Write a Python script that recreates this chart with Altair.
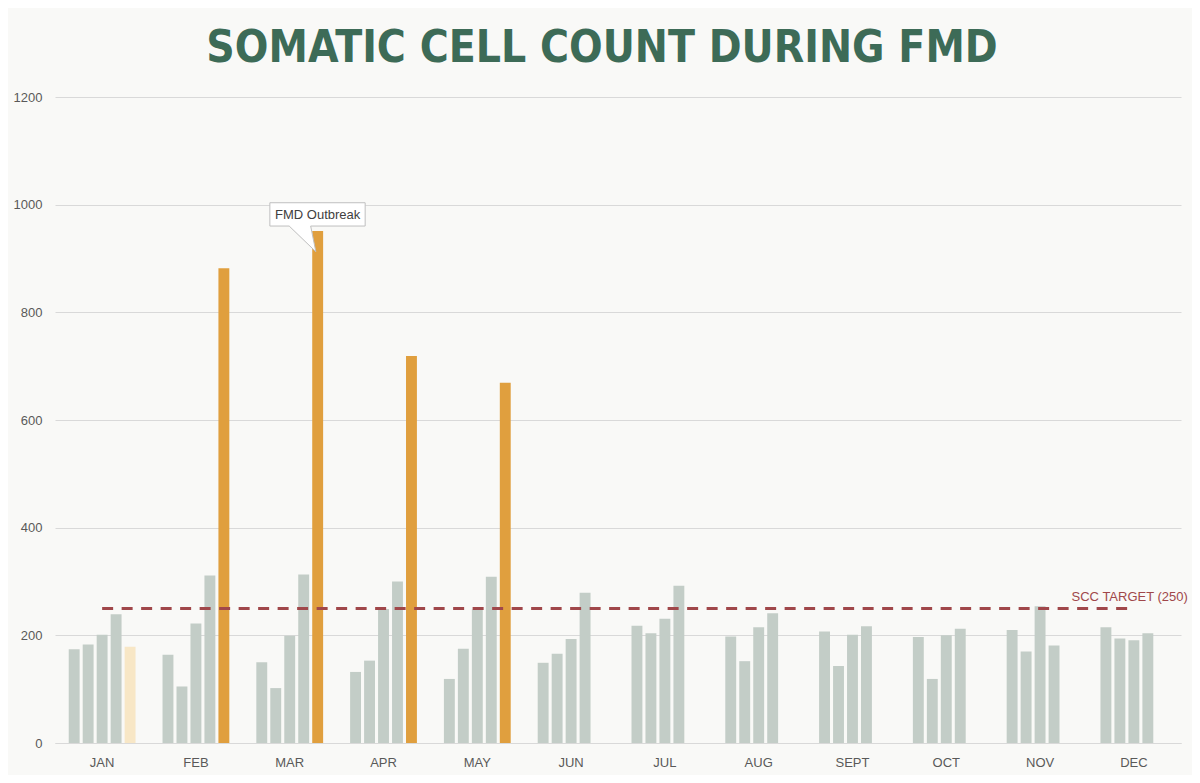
import altair as alt
import pandas as pd

months = ["JAN", "FEB", "MAR", "APR", "MAY", "JUN", "JUL", "AUG", "SEPT", "OCT", "NOV", "DEC"]
slots = ["W1", "W2", "W3", "W4", "W5"]
week1 = [174, 164, 150, 132, 119, 149, 218, 198, 207, 197, 210, 215]
week2 = [183, 105, 102, 153, 175, 166, 204, 152, 143, 119, 170, 194]
week3 = [201, 222, 199, 249, 248, 193, 231, 215, 201, 200, 254, 191]
week4 = [239, 311, 313, 300, 309, 279, 292, 241, 217, 212, 181, 204]
week5 = [179, 882, 951, 719, 669, None, None, None, None, None, None, None]
week5_status = ["Partial", "Outbreak", "Outbreak", "Outbreak", "Outbreak",
                None, None, None, None, None, None, None]
target_value = 250
target_label = "SCC TARGET (250)"
callout_month = "MAR"
callout_text = "FMD Outbreak"
title_text = "SOMATIC CELL COUNT DURING FMD"

rows = []
for i, m in enumerate(months):
    for slot, series in zip(slots[:4], [week1, week2, week3, week4]):
        rows.append({"month": m, "slot": slot, "value": series[i], "status": "Normal"})
    if week5[i] is not None:
        rows.append({"month": m, "slot": "W5", "value": week5[i], "status": week5_status[i]})
bars_df = pd.DataFrame(rows)

target_df = pd.DataFrame([{"start": months[0], "end": months[-1], "value": target_value,
                           "label": target_label}])
ci = months.index(callout_month)
callout_df = pd.DataFrame([{"month": callout_month, "slot": "W5", "value": week5[ci],
                            "label": callout_text}])
title_df = pd.DataFrame([{"label": title_text}])

x_scale = alt.Scale(domain=months, paddingInner=0.255, paddingOuter=0.13)
xo_scale = alt.Scale(domain=slots, paddingInner=0.22, paddingOuter=0.11)
y_scale = alt.Scale(domain=[0, 1200], nice=False)

x_axis = alt.Axis(title=None, ticks=False, domainColor="#d9d9d9", domainWidth=1,
                  labelColor="#595959", labelFont="Liberation Sans", labelFontSize=13,
                  labelPadding=13, labelAngle=0, grid=False)
y_axis = alt.Axis(title=None, ticks=False, domain=False, values=[0, 200, 400, 600, 800, 1000, 1200],
                  format="d",
                  labelColor="#595959", labelFont="Liberation Sans", labelFontSize=13,
                  labelPadding=13, gridColor="#d9d9d9", gridWidth=1)

bars = alt.Chart(bars_df).mark_bar().encode(
    x=alt.X("month:N", scale=x_scale, axis=x_axis, sort=months),
    xOffset=alt.XOffset("slot:N", scale=xo_scale),
    y=alt.Y("value:Q", scale=y_scale, axis=y_axis),
    color=alt.Color("status:N", legend=None,
                    scale=alt.Scale(domain=["Normal", "Outbreak", "Partial"],
                                    range=["#c3cdc7", "#e09f3e", "#f8e7c6"])),
)

rule = alt.Chart(target_df).mark_rule(color="#a0474a", strokeWidth=3, strokeDash=[11, 8.5]).encode(
    x=alt.X("start:N", scale=x_scale, sort=months),
    x2="end:N",
    y=alt.Y("value:Q", scale=y_scale),
)

rule_text = alt.Chart(target_df).mark_text(
    align="right", baseline="middle", dx=54, dy=-11, color="#a0474a",
    font="Liberation Sans", fontSize=13
).encode(
    x=alt.X("end:N", scale=x_scale, sort=months),
    y=alt.Y("value:Q", scale=y_scale),
    text="label:N",
)

callout_path = ("M-0.956,-0.566 L0.95,-0.566 L0.95,-0.1 L-0.14,-0.1 "
                "L-0.036,0.414 L-0.57,-0.1 L-0.956,-0.1 Z")
callout_box = alt.Chart(callout_df).mark_point(
    shape=callout_path, size=10000, filled=True, fill="white", stroke="#bfbfbf",
    strokeWidth=1, opacity=1, fillOpacity=1
).encode(
    x=alt.X("month:N", scale=x_scale, sort=months),
    xOffset=alt.XOffset("slot:N", scale=xo_scale),
    y=alt.Y("value:Q", scale=y_scale),
)

callout_text_mark = alt.Chart(callout_df).mark_text(
    align="center", baseline="middle", dy=-16.5, color="#404040",
    font="Liberation Sans", fontSize=13
).encode(
    x=alt.X("month:N", scale=x_scale, sort=months),
    xOffset=alt.XOffset("slot:N", scale=xo_scale),
    y=alt.Y("value:Q", scale=y_scale),
    text="label:N",
)

title_mark = alt.Chart(title_df).mark_text(
    align="center", baseline="alphabetic", font="DejaVu Sans Condensed, Liberation Sans, sans-serif",
    fontSize=44, fontWeight="bold", color="#3d6b57"
).encode(
    x=alt.value(547),
    y=alt.value(-35),
    text="label:N",
)

chart = alt.layer(bars, rule, rule_text, callout_box, callout_text_mark, title_mark).properties(
    width=1126,
    height=646,
    background="#f9f9f7",
    autosize=alt.AutoSizeParams(type="none"),
    padding={"left": 47, "top": 89, "right": 11, "bottom": 32},
).configure_view(stroke="transparent")

chart.save("out.html", embed_options={"renderer": "svg", "actions": False})
